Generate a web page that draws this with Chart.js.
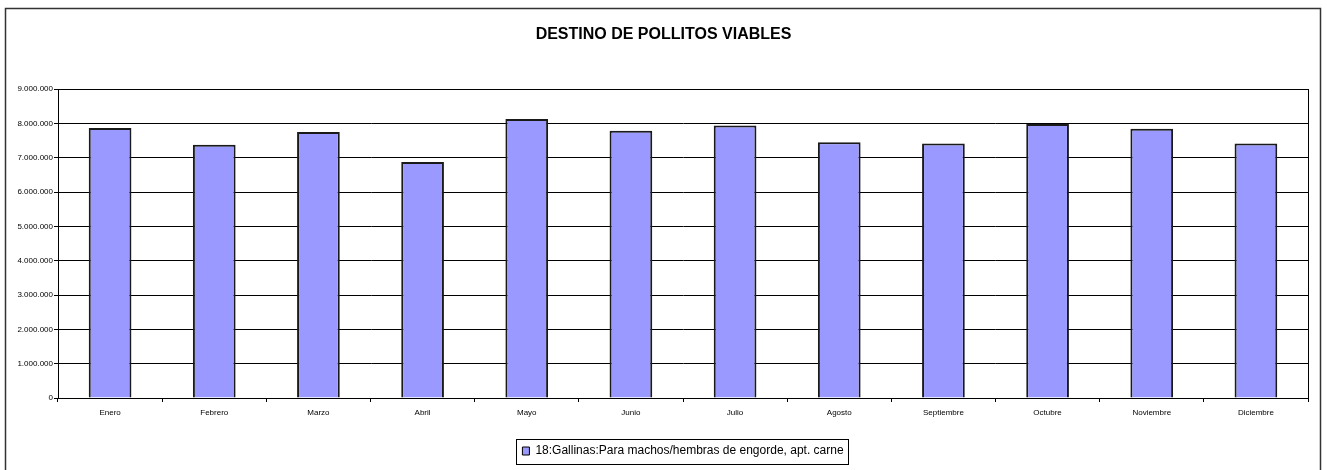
<!DOCTYPE html>
<html>
<head>
<meta charset="utf-8">
<script src="https://cdn.jsdelivr.net/npm/chart.js@4/dist/chart.umd.min.js"></script>
<style>
html,body{margin:0;padding:0;background:#fff;}
#wrap{position:relative;width:1327px;height:470px;}
</style>
</head>
<body>
<div id="wrap"><canvas id="c" width="1327" height="470"></canvas></div>
<script>
const categories = ['Enero','Febrero','Marzo','Abril','Mayo','Junio','Julio','Agosto','Septiembre','Octubre','Noviembre','Diciembre'];
const seriesName = '18:Gallinas:Para machos/hembras de engorde, apt. carne';
const seriesValues = [7865000, 7378000, 7748000, 6874000, 8127000, 7786000, 7940000, 7446000, 7416000, 7980000, 7845000, 7416000];
const chartTitle = 'DESTINO DE POLLITOS VIABLES';
const yMin = 0, yMax = 9000000, yStep = 1000000;

function fmt(v){ return String(Math.round(v)).replace(/\B(?=(\d{3})+(?!\d))/g, '.'); }

const FONT = "'Liberation Sans', Arial, sans-serif";

const framePlugin = {
  id: 'frame',
  afterDraw(chart){
    const ctx = chart.ctx;
    const a = chart.chartArea;
    ctx.save();
    ctx.strokeStyle = '#000';
    ctx.lineWidth = 1;
    ctx.strokeRect(Math.round(a.left)+0.5, Math.round(a.top)+0.5, Math.round(a.right - a.left), Math.round(a.bottom - a.top));
    ctx.strokeStyle = '#333';
    ctx.lineWidth = 1.5;
    ctx.beginPath();
    ctx.moveTo(5.5, 472);
    ctx.lineTo(5.5, 8.5);
    ctx.lineTo(1320.5, 8.5);
    ctx.lineTo(1320.5, 472);
    ctx.stroke();
    const lg = chart.legend;
    if (lg && lg.legendHitBoxes && lg.legendHitBoxes.length){
      const hb = lg.legendHitBoxes[0];
      ctx.strokeStyle = '#000';
      ctx.lineWidth = 1;
      const x0 = Math.round(hb.left - 6) + 0.5;
      const x1 = Math.round(hb.left + hb.width + 4) + 0.5;
      const yc = hb.top + hb.height/2;
      const y0 = Math.round(yc - 12) + 0.5;
      const y1 = Math.round(yc + 13) + 0.5;
      ctx.strokeRect(x0, y0, x1 - x0, y1 - y0);
    }
    ctx.restore();
  }
};

new Chart(document.getElementById('c'), {
  type: 'bar',
  data: {
    labels: categories,
    datasets: [{
      label: seriesName,
      data: seriesValues,
      backgroundColor: '#9999FF',
      borderColor: '#1a1a1a',
      borderWidth: 2,
      barPercentage: 0.41,
      categoryPercentage: 1.0
    }]
  },
  options: {
    responsive: false,
    animation: false,
    layout: { padding: { left: 0, right: 0, top: 0, bottom: 3 } },
    plugins: {
      title: {
        display: true,
        text: chartTitle,
        color: '#000',
        font: { family: FONT, size: 16, weight: 'bold' },
        padding: { top: 25, bottom: 44.8 }
      },
      legend: {
        display: true,
        position: 'bottom',
        fullSize: false,
        labels: {
          color: '#000',
          font: { family: FONT, size: 12 },
          boxWidth: 7,
          boxHeight: 8,
          padding: 10,
          generateLabels(chart){
            const ds = chart.data.datasets[0];
            return [{ text: ds.label, fillStyle: '#9999FF', strokeStyle: '#000', lineWidth: 1, datasetIndex: 0, hidden: false }];
          }
        }
      },
      tooltip: { enabled: false }
    },
    scales: {
      x: {
        grid: { display: true, drawOnChartArea: false, offset: true, tickLength: 4, color: '#000', lineWidth: 1 },
        border: { display: true, color: '#000', width: 1 },
        ticks: { color: '#000', font: { family: FONT, size: 8 }, padding: 6, maxRotation: 0, autoSkip: false },
        afterFit(scale){ scale.height = 37; }
      },
      y: {
        min: yMin, max: yMax,
        grid: { color: '#000', lineWidth: 1, tickLength: 4 },
        border: { display: true, color: '#000', width: 1 },
        ticks: { stepSize: yStep, color: '#000', font: { family: FONT, size: 8 }, padding: 1, callback: (v) => fmt(v) },
        afterFit(scale){ scale.width = 58; }
      },
      yRight: {
        position: 'right',
        min: yMin, max: yMax,
        grid: { display: false },
        border: { display: false },
        ticks: { display: false },
        afterFit(scale){ scale.width = 19; }
      }
    }
  },
  plugins: [framePlugin]
});
</script>
</body>
</html>
